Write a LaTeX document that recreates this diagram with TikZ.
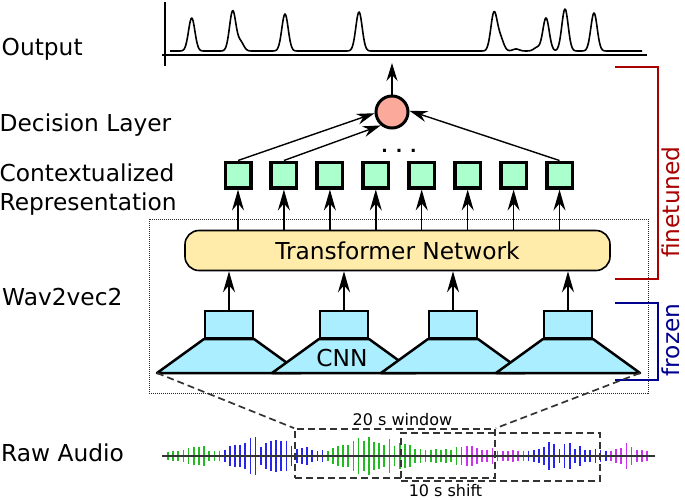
\documentclass[tikz,border=0pt]{standalone}
\usepackage{fontspec}
\setmainfont{DejaVu Sans}
\usetikzlibrary{arrows.meta,calc}
\definecolor{mint}{HTML}{AAFFCC}
\definecolor{salmon}{HTML}{FAA99A}
\definecolor{cnncyan}{HTML}{AAEEFF}
\definecolor{tryellow}{HTML}{FFEBAA}
\definecolor{ftred}{HTML}{AA0000}
\definecolor{frblue}{HTML}{000090}
\definecolor{wgreen}{HTML}{22BB22}
\definecolor{wblue}{HTML}{2525EE}
\definecolor{wpurple}{HTML}{CC33EE}
\definecolor{wgray}{HTML}{333333}
\newcommand\bigf{\fontsize{23.3}{28}\selectfont}
\newcommand\smallf{\fontsize{16}{19}\selectfont}
\newcommand\wavebars[3]{\foreach \h [count=\k from #1] in {#3} {\draw[#2] ({168+5.15*\k},{455.7-\h}) -- ({168+5.15*\k},{455.7+\h});}}
\tikzset{
  arrbig/.tip={Stealth[length=21pt,width=12pt,inset=7pt]},
  arrsmall/.tip={Stealth[length=18pt,width=11pt,inset=6pt]}}
\begin{document}
\begin{tikzpicture}[x=1pt,y=-1pt,
  declare function={gp(\x,\c,\a)=\a*exp(0-pow(min(abs(\x-\c)/4.5,6),2));},
  lbl/.style={font=\bigf,inner sep=0pt,anchor=base west},
  arr/.style={line width=1.4pt,-arrbig},
  arrs/.style={line width=1.4pt,-arrsmall},
  sq/.style={draw,line width=3.5pt,fill=mint,minimum size=25.5pt,inner sep=0pt},
  cnnr/.style={draw,line width=2.5pt,fill=cnncyan,minimum width=48pt,minimum height=27pt,inner sep=0pt},
  trap/.style={draw,line width=2.5pt,fill=cnncyan,line join=round},
  win/.style={draw=wgray,line width=1.7pt,dash pattern=on 7pt off 4pt,inner sep=0pt},
  bar/.style={line width=1.7pt}]
\useasboundingbox (0,0) rectangle (685,499);

% left labels
\node[lbl] (lout) at (1.5,55) {Output};
\node[lbl] (ldec) at (-0.5,131.7) {Decision Layer};
\node[lbl] (lctx) at (-0.5,181.7) {Contextualized};
\node[lbl] (lrep) at (-0.5,210) {Representation};
\node[lbl] (lwav) at (2,305) {Wav2vec2};
\node[lbl] (lraw) at (1,461.7) {Raw Audio};

% output plot
\draw[line width=1.6pt] (165,2) -- (165,66);
\draw[line width=1.6pt] (162,55) -- (647,55);
\draw[line width=1.6pt,line join=round] plot[domain=170:642,samples=600,smooth]
  (\x,{51-gp(\x,191.7,33)-gp(\x,232.7,40)-gp(\x,240.5,9)-gp(\x,285,37)-gp(\x,359,39)-gp(\x,494,38)-gp(\x,500.5,12)-gp(\x,516,2)-gp(\x,537,3.5)-gp(\x,546,33)-gp(\x,565,42)-gp(\x,594,38)});

% wav2vec2 frame
\draw[densely dotted,line width=1pt,black!85] (149,219) rectangle (648,393);

% decision layer
\node[draw,circle,line width=3pt,fill=salmon,minimum size=32pt,inner sep=0pt] (c) at (392,112) {};
\coordinate (otip) at (392,63);
\draw[arrs] (c.north) -- (otip);

% contextualized representation
\foreach \i [count=\n] in {238,283.9,329.9,375.8,421.7,467.7,513.6,559.5}
  \node[sq] (s\n) at (\i,175) {};
\node[font=\fontsize{17}{20}\selectfont\bfseries,inner sep=0pt,anchor=base] (dots) at (399,152) {. . .};
\draw[arrs] (s1.north) -- (c.184);
\draw[arrs] (s2.north) -- (c.230);
\draw[arrs] (s8.north) -- (c.4);

% transformer
\node[draw,line width=1.6pt,rounded corners=14pt,fill=tryellow,minimum width=425pt,minimum height=40pt,inner sep=0pt,font=\bigf] (tr) at (397.5,250.5) {Transformer Network};
\foreach \n in {1,...,8}
  \draw[arr] (s\n.south |- tr.north) -- (s\n.south);

% CNNs
\foreach \cx [count=\n] in {229,344,453,568} {
  \draw[trap] ({\cx-25},339) -- ({\cx+25},339) -- ({\cx+72},373) -- ({\cx-72},373) -- cycle;
  \coordinate (t\n l) at ({\cx-72},373);
  \coordinate (t\n r) at ({\cx+72},373);
  \node[cnnr] (r\n) at (\cx,324.5) {};
  \draw[arr] (r\n.north) -- (r\n.north |- tr.south);
}
\node[font=\bigf,inner sep=0pt,anchor=base] (cnn) at (342,366) {CNN};

% brackets
\draw[ftred,line width=2.2pt] (615,67) -- (658,67) -- (658,279) -- (615,279);
\node[ftred,font=\bigf,rotate=90,anchor=base,inner sep=0pt] (ft) at (679,202) {finetuned};
\draw[frblue,line width=2.2pt] (615,303) -- (658,303) -- (658,380) -- (615,380);
\node[frblue,font=\bigf,rotate=90,anchor=base,inner sep=0pt] (fz) at (679,340) {frozen};

% raw audio
\wavebars{0}{bar,wgreen}{4,5,5,6,8,9,9,10,5,5,5}
\wavebars{11}{bar,wblue}{6,10,11,11,13,18,19,9,13,15,16,15,15,10,7,8,9,6,5,6}
\wavebars{31}{bar,wgreen}{5,8,10,11,11,15,18,15,19,14,13,11,17,10,13,12,11,7,7,6,6,7,6,7,6,9}
\wavebars{57}{bar,wpurple}{9,10,10,8,6,6,8,5,5,5,6,5,5}
\wavebars{70}{bar,wblue}{5,6,7,9,14,12,7,12,13,7,10,6,6,7,6,5}
\wavebars{86}{bar,wpurple}{5,7,8,13,9,6,6,5}
\draw[wgray,line width=1.6pt] (162,455.7) -- (655,455.7);

\node[win,minimum width=200pt,minimum height=49pt] (w1) at (395,453.5) {};
\node[win,minimum width=199pt,minimum height=48pt] (w2) at (500.5,457) {};
\draw[win] (t1l) -- (w1.north west);
\draw[win] (t4r) -- (w1.north east);
\node[font=\smallf,inner sep=0pt,anchor=base] (l20) at (402.5,425) {20 s window};
\node[font=\smallf,inner sep=0pt,anchor=base] (l10) at (445.5,496) {10 s shift};
\end{tikzpicture}
\end{document}
